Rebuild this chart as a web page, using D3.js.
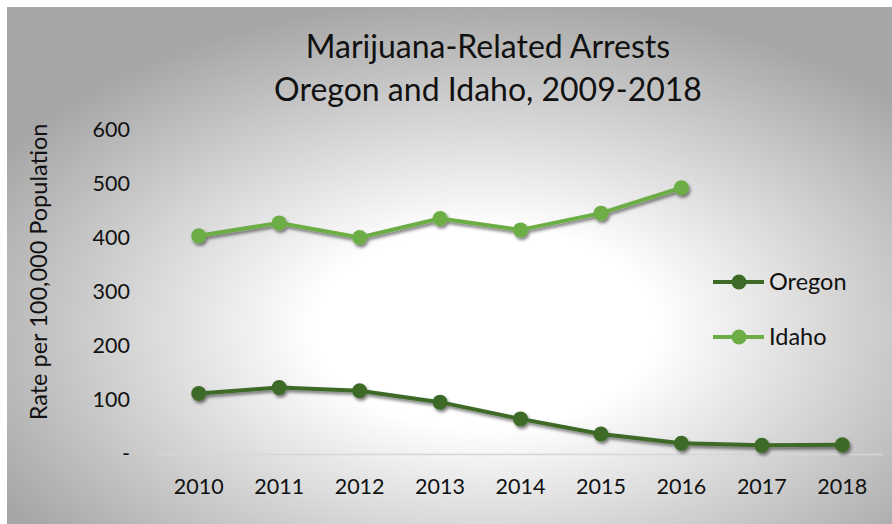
<!DOCTYPE html>
<html>
<head>
<meta charset="utf-8">
<script src="https://cdn.jsdelivr.net/npm/d3@7"></script>
<style>
  html, body { margin: 0; padding: 0; background: #fff; }
  svg { display: block; font-family: Lato, "Open Sans", sans-serif; }
</style>
</head>
<body>
<script>
// Data
const years = ["2010", "2011", "2012", "2013", "2014", "2015", "2016", "2017", "2018"];
const oregon = [112, 123, 117, 96, 65, 37, 20, 16, 17];
const idaho = [404, 428, 401, 436, 415, 446, 493, null, null];
const yTicks = [0, 100, 200, 300, 400, 500, 600];

const series = [
    { name: "Oregon", values: oregon, color: "#3d6a27" },
    { name: "Idaho", values: idaho, color: "#6cad45" }
];

const width = 892;
const height = 524;

const svg = d3.select("body")
    .append("svg")
    .attr("width", width)
    .attr("height", height);

const defs = svg.append("defs");

// Background radial gradient (white in the middle, grey to the edges)
const grad = defs.append("radialGradient")
    .attr("id", "bg")
    .attr("cx", "0.54")
    .attr("cy", "0.62")
    .attr("r", "0.64");
grad.append("stop").attr("offset", "0").attr("stop-color", "#ffffff");
grad.append("stop").attr("offset", "0.3").attr("stop-color", "#ffffff");
grad.append("stop").attr("offset", "1").attr("stop-color", "#a6a6a6");

// Soft shadow under lines and markers
const shadow = defs.append("filter")
    .attr("id", "shadow")
    .attr("x", "-20%").attr("y", "-20%")
    .attr("width", "140%").attr("height", "140%");
shadow.append("feDropShadow")
    .attr("dx", 1.5).attr("dy", 2.5)
    .attr("stdDeviation", 1.8)
    .attr("flood-color", "#000")
    .attr("flood-opacity", 0.5);

svg.append("rect")
    .attr("x", 7).attr("y", 7)
    .attr("width", width - 7).attr("height", height - 7)
    .attr("fill", "url(#bg)");

// Scales
const x = d3.scaleBand()
    .domain(years)
    .range([158.5, 882.5]);

const y = d3.scaleLinear()
    .domain([0, 600])
    .range([454, 130]);

const cx = d => x(d) + x.bandwidth() / 2;

// Title
const title = svg.append("text")
    .attr("text-anchor", "middle")
    .attr("fill", "#111")
    .style("font-size", "32px")
    .style("font-weight", 400);
title.append("tspan").attr("x", 488).attr("y", 58).text("Marijuana-Related Arrests");
title.append("tspan").attr("x", 488).attr("y", 101).text("Oregon and Idaho, 2009-2018");

// Y axis (labels only)
const yAxis = svg.append("g")
    .attr("transform", "translate(130,0)")
    .call(d3.axisLeft(y).tickValues(yTicks).tickSize(0).tickPadding(0)
        .tickFormat(d => d === 0 ? "-" : d));
yAxis.select(".domain").remove();
yAxis.selectAll("text")
    .attr("fill", "#111")
    .style("font-size", "21.5px")
    .style("font-family", "Lato, sans-serif");

// Y axis title
svg.append("text")
    .attr("transform", "translate(47,272) rotate(-90)")
    .attr("text-anchor", "middle")
    .attr("fill", "#111")
    .style("font-size", "23.5px")
    .text("Rate per 100,000 Population");

// X axis
const xAxis = svg.append("g")
    .attr("transform", "translate(0,454)")
    .call(d3.axisBottom(x).tickSize(0).tickPadding(25));
xAxis.select(".domain")
    .attr("stroke", "#d6d6d6")
    .attr("stroke-width", 1.5);
xAxis.selectAll("text")
    .attr("fill", "#111")
    .style("font-size", "21.5px")
    .style("font-family", "Lato, sans-serif");

// Lines and markers
const line = d3.line()
    .defined(d => d.v != null)
    .x(d => cx(d.year))
    .y(d => y(d.v));

series.forEach(s => {
    const pts = years.map((yr, i) => ({ year: yr, v: s.values[i] }));
    const g = svg.append("g").attr("filter", "url(#shadow)");
    g.append("path")
        .datum(pts)
        .attr("fill", "none")
        .attr("stroke", s.color)
        .attr("stroke-width", 4)
        .attr("stroke-linejoin", "round")
        .attr("d", line);
    g.selectAll("circle")
        .data(pts.filter(d => d.v != null))
        .join("circle")
        .attr("cx", d => cx(d.year))
        .attr("cy", d => y(d.v))
        .attr("r", 7.5)
        .attr("fill", s.color);
});

// Legend
const legend = svg.append("g");
series.forEach((s, i) => {
    const ly = 282 + i * 55;
    legend.append("line")
        .attr("x1", 713).attr("x2", 764)
        .attr("y1", ly).attr("y2", ly)
        .attr("stroke", s.color)
        .attr("stroke-width", 4);
    legend.append("circle")
        .attr("cx", 739).attr("cy", ly)
        .attr("r", 7.5)
        .attr("fill", s.color);
    legend.append("text")
        .attr("x", 769).attr("y", ly)
        .attr("dy", "0.35em")
        .attr("fill", "#111")
        .style("font-size", "23.5px")
        .text(s.name);
});
</script>
</body>
</html>
